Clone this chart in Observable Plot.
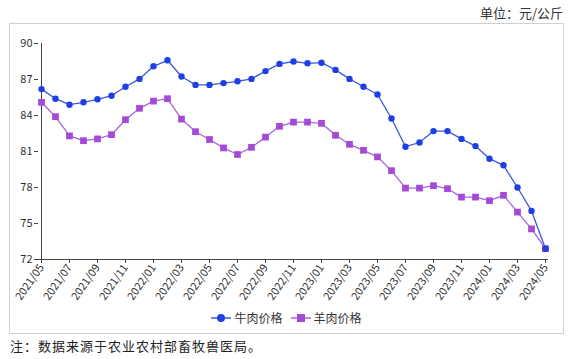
<!DOCTYPE html>
<html><head><meta charset="utf-8">
<script src="https://cdn.jsdelivr.net/npm/d3@7"></script>
<script src="https://cdn.jsdelivr.net/npm/@observablehq/plot@0.6"></script>
<style>
body{margin:0;background:#fff;font-family:"Noto Sans CJK SC","Noto Sans",sans-serif;color:#333;}
#wrap{position:relative;width:574px;height:359px;overflow:hidden;}
#unit{position:absolute;right:11px;top:3px;font-size:13px;color:#333;}
#box{position:absolute;left:9px;top:23px;width:553px;height:309px;border:1px solid #d0d0d0;}
#chart{position:absolute;left:0;top:0;}
#legend{position:absolute;left:0;top:285px;width:553px;text-align:center;font-size:12px;color:#333;}
#legend span.item{display:inline-flex;align-items:center;margin:0 4px;}
#legend svg{margin-right:3px;}
#note{position:absolute;left:10px;top:336px;font-size:13px;color:#222;letter-spacing:1px;}
</style></head>
<body><div id="wrap">
<div id="unit">单位：元/公斤</div>
<div id="box"><div id="chart"></div><div id="legend"></div></div>
<div id="note">注：数据来源于农业农村部畜牧兽医局。</div>
</div>
<script>
const months = ["2021/05","2021/06","2021/07","2021/08","2021/09","2021/10","2021/11","2021/12",
"2022/01","2022/02","2022/03","2022/04","2022/05","2022/06","2022/07","2022/08","2022/09","2022/10","2022/11","2022/12",
"2023/01","2023/02","2023/03","2023/04","2023/05","2023/06","2023/07","2023/08","2023/09","2023/10","2023/11","2023/12",
"2024/01","2024/02","2024/03","2024/04","2024/05"];
const beef = [86.2,85.4,84.9,85.1,85.35,85.65,86.4,87.05,88.1,88.6,87.25,86.55,86.55,86.7,86.85,87.05,87.7,88.3,88.5,88.35,88.4,87.8,87.05,86.4,85.75,83.75,81.4,81.75,82.7,82.7,82.05,81.45,80.4,79.85,78.0,76.05,72.9];
const lamb = [85.1,83.9,82.3,81.9,82.05,82.4,83.65,84.6,85.2,85.4,83.7,82.65,82.0,81.3,80.75,81.35,82.2,83.1,83.45,83.45,83.35,82.35,81.6,81.1,80.55,79.4,77.95,77.95,78.15,77.9,77.2,77.2,76.9,77.35,75.95,74.55,72.9];
const yTicks = [72,75,78,81,84,87,90];
const seriesNames = ["牛肉价格","羊肉价格"];
const colors = {"牛肉价格":"#1f3fe6","羊肉价格":"#a34ad6"};
const lineColors = {"牛肉价格":"#3b58e0","羊肉价格":"#aa63dc"};

const data = [];
months.forEach((m,i)=>{
  data.push({month:m, value:beef[i], series:seriesNames[0]});
  data.push({month:m, value:lamb[i], series:seriesNames[1]});
});
const beefData = data.filter(d=>d.series===seriesNames[0]);
const lambData = data.filter(d=>d.series===seriesNames[1]);

const chart = Plot.plot({
  width: 553, height: 285,
  marginLeft: 28, marginRight: 15, marginTop: 19, marginBottom: 50,
  style: {fontSize:"11px", fontFamily:"'Noto Sans CJK SC','Noto Sans',sans-serif", color:"#333", background:"transparent", overflow:"visible"},
  x: {type:"point", domain: months, padding: 0},
  y: {domain:[72,90]},
  marks: [
    Plot.axisY({ticks: yTicks, tickSize: 4, label: null, tickPadding: 2, stroke:"#444"}),
    Plot.axisX({ticks: months.filter((d,i)=>i%2===0), tickSize: 4, tickRotate: -55, label: null, tickPadding: 2, stroke:"#444"}),
    Plot.ruleY([72], {stroke:"#444", strokeWidth:1}),
    Plot.ruleX([months[0]], {stroke:"#444", strokeWidth:1}),
    Plot.line(lambData, {x:"month", y:"value", stroke: lineColors["羊肉价格"], strokeWidth:1.3}),
    Plot.line(beefData, {x:"month", y:"value", stroke: lineColors["牛肉价格"], strokeWidth:1.3}),
    Plot.dot(lambData, {x:"month", y:"value", symbol:"square", r:3.8, fill: colors["羊肉价格"], stroke:"none"}),
    Plot.dot(beefData, {x:"month", y:"value", symbol:"circle", r:3.2, fill: colors["牛肉价格"], stroke:"none"})
  ]
});
document.getElementById("chart").appendChild(chart);

const legend = document.getElementById("legend");
seriesNames.forEach((s,i)=>{
  const item = document.createElement("span");
  item.className = "item";
  const marker = i===0
    ? `<circle cx="10" cy="6" r="4" fill="${colors[s]}"/>`
    : `<rect x="6" y="2" width="8" height="8" fill="${colors[s]}"/>`;
  item.innerHTML = `<svg width="20" height="12"><line x1="0" x2="20" y1="6" y2="6" stroke="${lineColors[s]}" stroke-width="1.5"/>${marker}</svg>${s}`;
  legend.appendChild(item);
});
</script>
</body></html>
